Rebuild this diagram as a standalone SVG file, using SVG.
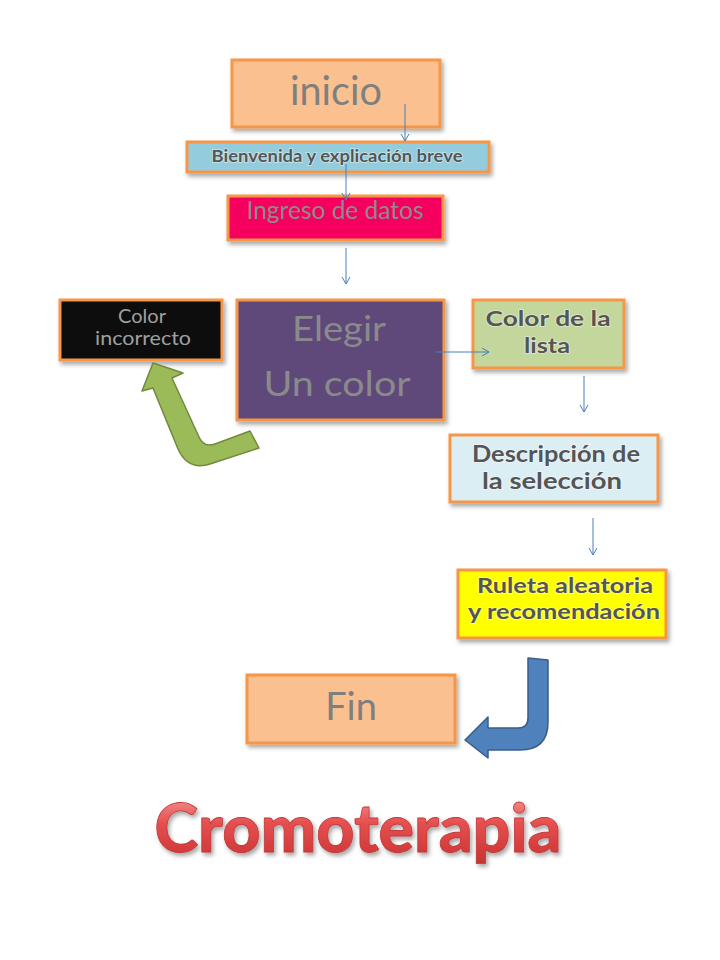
<svg xmlns="http://www.w3.org/2000/svg" width="720" height="960" viewBox="0 0 720 960">
<defs>
<filter id="sh" x="-10%" y="-10%" width="130%" height="140%">
<feDropShadow dx="2" dy="3" stdDeviation="2" flood-color="#000" flood-opacity="0.35"/>
</filter>
<linearGradient id="red" x1="0" y1="0" x2="0" y2="1">
<stop offset="0" stop-color="#F6A8A8"/>
<stop offset="0.45" stop-color="#E65050"/>
<stop offset="1" stop-color="#C83030"/>
</linearGradient>
<marker id="ah" markerWidth="10" markerHeight="10" refX="8" refY="5" orient="auto" markerUnits="userSpaceOnUse">
<path d="M1,1 L8,5 L1,9" fill="none" stroke="#4A7EBB" stroke-width="1"/>
</marker>
</defs>
<style>
.box{stroke:#F79646;stroke-width:3;filter:url(#sh)}
.t{font-family:Lato,"Open Sans","Liberation Sans",sans-serif;text-anchor:middle}
.g{fill:#7F7F7F}
.b{font-weight:bold;fill:#555555;stroke:#FFFFFF;stroke-width:1.6;stroke-opacity:0.5;paint-order:stroke}
.c{fill:none;stroke:#4A7EBB;stroke-width:1;marker-end:url(#ah)}
</style>
<rect width="720" height="960" fill="#FFFFFF"/>

<g id="inicio">
<rect class="box" x="232" y="60" width="208" height="67" fill="#FAC090"/>
<text class="t g" x="336" y="105" font-size="40" textLength="92" lengthAdjust="spacingAndGlyphs">inicio</text>
</g>

<g id="bienvenida">
<rect class="box" x="187" y="142" width="302" height="30" fill="#93CDDD"/>
<text class="t b" x="337" y="162" font-size="17" textLength="251" lengthAdjust="spacingAndGlyphs">Bienvenida y explicación breve</text>
</g>

<g id="ingreso">
<rect class="box" x="228" y="196" width="215" height="44" fill="#F5055F"/>
<text class="t" x="335" y="219" font-size="25" fill="#8C8C8C" textLength="177" lengthAdjust="spacingAndGlyphs">Ingreso de datos</text>
</g>

<g id="elegir">
<rect class="box" x="237" y="300" width="207" height="120" fill="#5F497A"/>
<text class="t" x="339" y="341" font-size="35" fill="#8A8A8A" textLength="94" lengthAdjust="spacingAndGlyphs">Elegir</text>
<text class="t" x="337" y="396" font-size="35" fill="#8A8A8A" textLength="147" lengthAdjust="spacingAndGlyphs">Un color</text>
</g>

<g id="color-incorrecto">
<rect class="box" x="60" y="300" width="162" height="60" fill="#0D0D0D"/>
<text class="t" x="142" y="323" font-size="20" fill="#A0A0A0">Color</text>
<text class="t" x="143" y="345" font-size="20" fill="#A0A0A0" textLength="96" lengthAdjust="spacingAndGlyphs">incorrecto</text>
</g>

<g id="color-lista">
<rect class="box" x="473" y="300" width="151" height="68" fill="#C3D69B"/>
<text class="t b" x="548" y="326" font-size="21" textLength="125" lengthAdjust="spacingAndGlyphs">Color de la</text>
<text class="t b" x="547" y="353" font-size="21" textLength="46" lengthAdjust="spacingAndGlyphs">lista</text>
</g>

<g id="descripcion">
<rect class="box" x="450" y="435" width="208" height="67" fill="#DBEEF4"/>
<text class="t b" x="556" y="462" font-size="22" textLength="168" lengthAdjust="spacingAndGlyphs">Descripción de</text>
<text class="t b" x="552" y="489" font-size="22" textLength="140" lengthAdjust="spacingAndGlyphs">la selección</text>
</g>

<g id="ruleta">
<rect class="box" x="458" y="570" width="208" height="68" fill="#FFFF00"/>
<text class="t b" x="565" y="593" font-size="21" fill="#5A5A3A" textLength="176" lengthAdjust="spacingAndGlyphs">Ruleta aleatoria</text>
<text class="t b" x="564" y="619" font-size="21" fill="#5A5A3A" textLength="192" lengthAdjust="spacingAndGlyphs">y recomendación</text>
</g>

<g id="fin">
<rect class="box" x="247" y="675" width="208" height="68" fill="#FAC090"/>
<text class="t g" x="351" y="720" font-size="38">Fin</text>
</g>

<g id="green-arrow">
<path d="M153,363 L183,373 L172,378 L199,437 Q204,448 215,444 L250,431 L259,448 L210,464 Q188,471 178,449 L153,388 L142,391 Z" fill="#9BBB59" stroke="#71893F" stroke-width="1.5" stroke-linejoin="round"/>
</g>

<g id="blue-arrow">
<path d="M528,658 L548,660 L548,722 Q548,750 520,750 L488,750 L488,758 L465,740 L488,717 L488,728 L518,728 Q528,728 528,718 Z" fill="#4F81BD" stroke="#385D8A" stroke-width="1.5" stroke-linejoin="round"/>
</g>

<g id="connectors">
<line class="c" x1="405" y1="104" x2="405" y2="141"/>
<line class="c" x1="346" y1="164" x2="346" y2="200"/>
<line class="c" x1="346" y1="248" x2="346" y2="284"/>
<line class="c" x1="436" y1="352" x2="489" y2="352"/>
<line class="c" x1="584" y1="376" x2="584" y2="412"/>
<line class="c" x1="593" y1="518" x2="593" y2="555"/>
</g>

<g id="title">
<text class="t" x="358" y="852" font-size="66" font-weight="900" fill="url(#red)" stroke="#C03A3A" stroke-width="0.8" textLength="407" lengthAdjust="spacingAndGlyphs" filter="url(#sh)">Cromoterapia</text>
</g>
</svg>
